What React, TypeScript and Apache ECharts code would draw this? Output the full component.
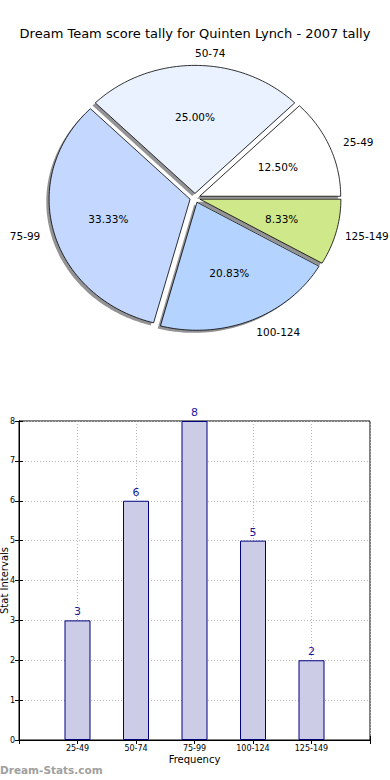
import React, { useEffect, useRef } from "react";
import * as echarts from "echarts";

const titleText = "Dream Team score tally for Quinten Lynch - 2007 tally";
const categories = ["25-49", "50-74", "75-99", "100-124", "125-149"];
const counts = [3, 6, 8, 5, 2];
const pieColors = ["#ffffff", "#eaf2ff", "#c4d8ff", "#b4d4ff", "#cfe98a"];
const yTicks = [0, 1, 2, 3, 4, 5, 6, 7, 8];

const FONT = "DejaVu Sans";
const W = 390;
const CX = 195;
const CY = 198;
const RX = 141;
const RY = 128;
const EXPLODE = 0.036;
const SHX = -2.8;
const SHY = 2.6;
const LABEL_FS = 10.5;

export default function App() {
  const ref = useRef<HTMLDivElement>(null);

  useEffect(() => {
    document.body.style.margin = "0";
    if (!ref.current) return;
    const chart = echarts.init(ref.current, undefined, { renderer: "svg" });
    const total = counts.reduce((a, b) => a + b, 0);

    const renderPie = (params: any, api: any) => {
      const i = params.dataIndex;
      const v = api.value(0) as number;
      let before = 0;
      for (let k = 0; k < i; k++) before += counts[k];
      const start = (before / total) * Math.PI * 2;
      const end = start + (v / total) * Math.PI * 2;
      const mid = (start + end) / 2;
      const px = CX + EXPLODE * RX * Math.cos(mid);
      const py = CY - EXPLODE * RY * Math.sin(mid);
      const pts: number[][] = [[px, py]];
      const n = Math.max(8, Math.ceil((end - start) / (Math.PI / 120)));
      for (let k = 0; k <= n; k++) {
        const t = start + ((end - start) * k) / n;
        pts.push([px + RX * Math.cos(t), py - RY * Math.sin(t)]);
      }
      const shadow = pts.map((p) => [p[0] + SHX, p[1] + SHY]);
      const cosM = Math.cos(mid);
      const sinM = Math.sin(mid);
      const name = categories[i];
      const estW = name.length * LABEL_FS * 0.6;
      let lx = px + 1.1 * RX * cosM;
      if (cosM >= 0) lx = Math.min(lx, W - 1 - estW);
      return {
        type: "group",
        children: [
          {
            type: "polygon",
            shape: { points: shadow },
            style: { fill: "rgba(40,40,45,0.5)", stroke: "none" },
          },
          {
            type: "polygon",
            shape: { points: pts },
            style: { fill: pieColors[i], stroke: "#000", lineWidth: 0.8 },
          },
          {
            type: "text",
            z2: 20,
            x: px + 0.6 * RX * cosM,
            y: py - 0.6 * RY * sinM,
            style: {
              text: ((v / total) * 100).toFixed(2) + "%",
              fontFamily: FONT,
              fontSize: LABEL_FS,
              fill: "#000",
              align: "center",
              verticalAlign: "middle",
            },
          },
          {
            type: "text",
            z2: 20,
            x: lx,
            y: py - 1.1 * RY * sinM,
            style: {
              text: name,
              fontFamily: FONT,
              fontSize: LABEL_FS,
              fill: "#000",
              align: cosM >= 0 ? "left" : "right",
              verticalAlign: "middle",
            },
          },
        ],
      };
    };

    const axisLabelStyle = { fontFamily: FONT, fontSize: 8, color: "#000" };

    chart.setOption({
      animation: false,
      textStyle: { fontFamily: FONT },
      title: {
        text: titleText,
        left: "center",
        top: 22,
        textStyle: { fontFamily: FONT, fontSize: 13, fontWeight: "normal", color: "#000" },
      },
      grid: {
        left: 19,
        right: 20,
        top: 421,
        bottom: 40,
        containLabel: false,
        outerBoundsMode: "none",
        show: true,
        borderColor: "#000",
        borderWidth: 1,
        backgroundColor: "transparent",
      },
      xAxis: [
        {
          type: "value",
          min: 0,
          max: 6,
          interval: 1,
          name: "Frequency",
          nameLocation: "middle",
          nameGap: 14,
          nameTextStyle: { fontFamily: FONT, fontSize: 10, color: "#000" },
          axisLine: { show: true, lineStyle: { color: "#000" } },
          axisTick: { show: true, inside: true, length: 4, lineStyle: { color: "#000" } },
          axisLabel: {
            ...axisLabelStyle,
            margin: 4,
            formatter: (val: number) => categories[val - 1] ?? "",
          },
          splitLine: { show: true, lineStyle: { color: "#b8b8b8", type: [1, 2], width: 1 } },
        },
        {
          type: "value",
          position: "top",
          min: 0,
          max: 6,
          interval: 1,
          axisLine: { show: true, lineStyle: { color: "#000" } },
          axisTick: { show: true, inside: true, length: 4, lineStyle: { color: "#000" } },
          axisLabel: { show: false },
          splitLine: { show: false },
        },
      ],
      yAxis: [
        {
          type: "value",
          min: yTicks[0],
          max: yTicks[yTicks.length - 1],
          interval: 1,
          name: "Stat Intervals",
          nameLocation: "middle",
          nameGap: 10,
          nameMoveOverlap: false,
          nameTextStyle: { fontFamily: FONT, fontSize: 10, color: "#000" },
          axisLine: { show: true, lineStyle: { color: "#000" } },
          axisTick: { show: true, inside: true, length: 4, lineStyle: { color: "#000" } },
          axisLabel: { ...axisLabelStyle, margin: 4 },
          splitLine: { show: true, lineStyle: { color: "#b8b8b8", type: [1, 2], width: 1 } },
        },
        {
          type: "value",
          position: "right",
          min: yTicks[0],
          max: yTicks[yTicks.length - 1],
          interval: 1,
          axisLine: { show: true, lineStyle: { color: "#000" } },
          axisTick: { show: true, inside: true, length: 4, lineStyle: { color: "#000" } },
          axisLabel: { show: false },
          splitLine: { show: false },
        },
      ],
      graphic: [
        {
          type: "text",
          left: 0,
          top: 764,
          style: {
            text: "Dream-Stats.com",
            fontFamily: FONT,
            fontSize: 10.5,
            fontWeight: "bold",
            fill: "#a0a0a0",
          },
        },
      ],
      series: [
        {
          type: "custom",
          coordinateSystem: "none",
          renderItem: renderPie,
          data: counts.map((v, i) => [v, i]),
          silent: true,
        },
        {
          type: "bar",
          xAxisIndex: 0,
          yAxisIndex: 0,
          barWidth: 26,
          data: counts.map((v, i) => [i + 1, v]),
          itemStyle: { color: "#ccccE6", borderColor: "#000080", borderWidth: 1 },
          label: {
            show: true,
            position: "top",
            distance: 3,
            fontFamily: FONT,
            fontSize: 11,
            color: "#1a1a99",
            formatter: (p: any) => String(p.value[1]),
          },
          silent: true,
        },
      ],
    });

    return () => chart.dispose();
  }, []);

  return <div ref={ref} style={{ width: 390, height: 780 }} />;
}
